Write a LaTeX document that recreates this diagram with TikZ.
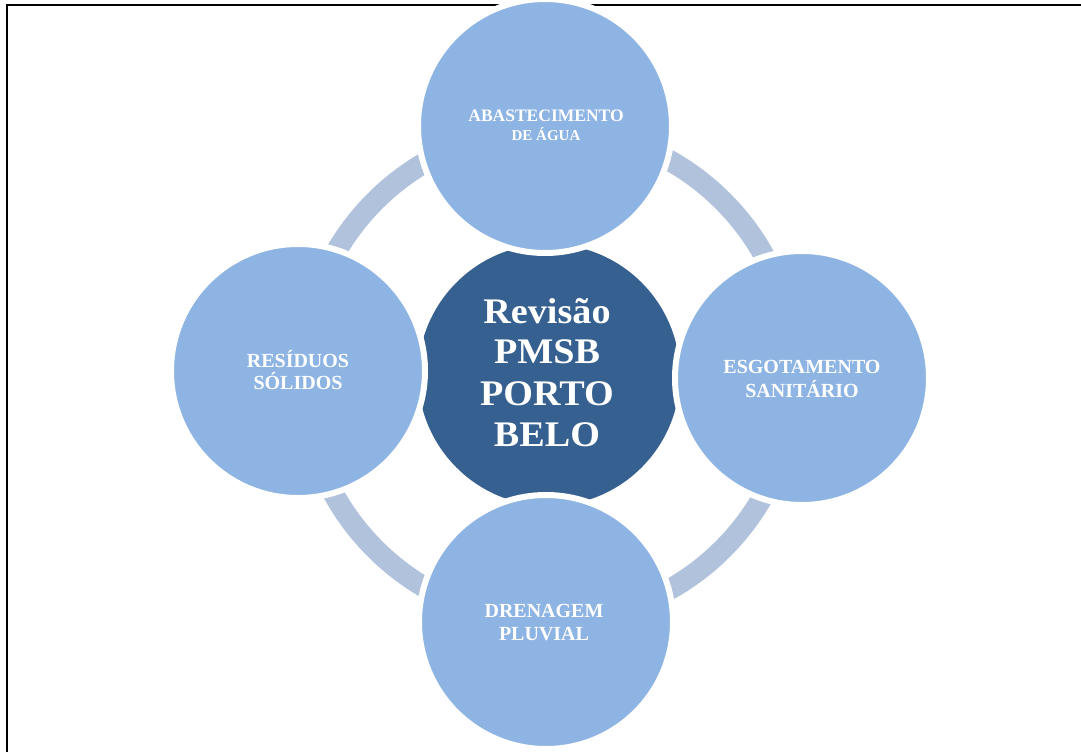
\documentclass[tikz,border=0pt]{standalone}
\usepackage{fontspec}
\setmainfont{Liberation Serif}
\newfontfamily\hubfont[FakeStretch=1.06]{Liberation Serif}
\definecolor{satblue}{HTML}{8EB4E3}
\definecolor{midblue}{HTML}{36608F}
\definecolor{ringblue}{HTML}{B1C2DD}
\tikzset{
  frameline/.style={line width=2.5pt, black},
  ringband/.style={draw=ringblue, line width=21pt},
  hub/.style={circle, fill=midblue, draw=white, line width=6pt, minimum size=268pt, inner sep=0pt},
  sat/.style={circle, fill=satblue, draw=white, line width=6pt, minimum size=254pt, inner sep=0pt},
  hubtext/.style={text=white, font=\hubfont\fontsize{36}{41}\selectfont\bfseries, anchor=base},
  sattext/.style={text=white, font=\fontsize{20}{23}\selectfont\bfseries, anchor=base},
}
\begin{document}
\begin{tikzpicture}[x=1pt,y=-1pt]
\useasboundingbox (0,0) rectangle (1081,752);
\fill[white] (0,0) rectangle (1081,752);
\coordinate (tl) at (7,5);
\coordinate (tr) at (1081,5);
\coordinate (bl) at (7,752);
\draw[frameline] (bl) -- (tl) -- (tr);
\coordinate (c) at (549,375);
\draw[ringband] (c) circle (246);
\node[hub] (hub) at (c) {};
\node[sat] (top) at (545,126) {};
\node[sat] (right) at (802,378) {};
\node[sat] (bottom) at (546,622) {};
\node[sat] (left) at (298,371) {};
% centre text
\node[hubtext] (h1) at (547,323) {Revisão};
\node[hubtext] (h2) at (547,363) {PMSB};
\node[hubtext] (h3) at (547,405) {PORTO};
\node[hubtext] (h4) at (547,446) {BELO};
% satellite texts
\node[sattext, font=\fontsize{17.5}{20}\selectfont\bfseries] (t1) at (546,121) {ABASTECIMENTO};
\node[sattext, font=\fontsize{15}{18}\selectfont\bfseries] (t2) at (546,140) {DE ÁGUA};
\node[sattext] (r1) at (802,373) {ESGOTAMENTO};
\node[sattext] (r2) at (802,397) {SANITÁRIO};
\node[sattext] (b1) at (544,617) {DRENAGEM};
\node[sattext] (b2) at (544,640) {PLUVIAL};
\node[sattext] (l1) at (298,367) {RESÍDUOS};
\node[sattext] (l2) at (298,389) {SÓLIDOS};
\end{tikzpicture}
\end{document}
